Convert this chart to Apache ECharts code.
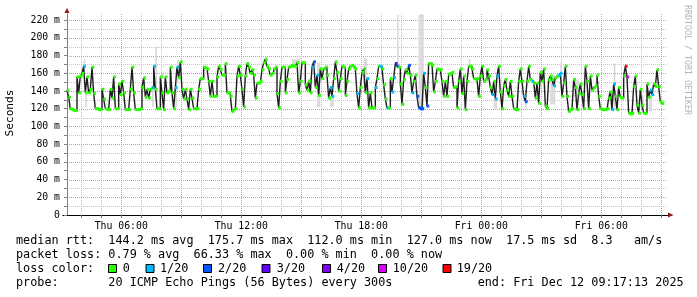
<!DOCTYPE html>
<html><head><meta charset="utf-8">
<script src="https://cdn.jsdelivr.net/npm/echarts@6/dist/echarts.min.js"></script>
<style>html,body{margin:0;padding:0;background:#fff}#c{width:697px;height:297px}</style>
</head><body><div id="c"></div>
<script>
// ---- time axis (hours since Thu 00:00) ----
const T0 = 3 + 17/60 + 13/3600;   // Thu 03:17:13
const T1 = T0 + 30;               // Fri 09:17:13
const stepH = 300/3600;           // 300 s per sample
const YMAX = 227;

const xLabelHours = [6, 12, 18, 24, 30];
const xLabels = ['Thu 06:00', 'Thu 12:00', 'Thu 18:00', 'Fri 00:00', 'Fri 06:00'];
const xTickHours = [4,5,6,7,8,9,10,11,12,13,14,15,16,17,18,19,20,21,22,23,24,25,26,27,28,29,30,31,32,33];
const xMajorHours = [6,9,12,15,18,21,24,27,30,33];
const xMinorHours = [4,5,7,8,10,11,13,14,16,17,19,20,22,23,25,26,28,29,31,32];

const yLabelVals = [0,20,40,60,80,100,120,140,160,180,200,220];
const yLabels = ['0','20 m','40 m','60 m','80 m','100 m','120 m','140 m','160 m','180 m','200 m','220 m'];
const yTickVals = [0,10,20,30,40,50,60,70,80,90,100,110,120,130,140,150,160,170,180,190,200,210,220];
const yMajorVals = [20,40,60,80,100,120,140,160,180,200,220];
const yMinorVals = [10,30,50,70,90,110,130,150,170,190,210];

// ---- median RTT (ms), one per 300 s sample ----
const median = [
141,133,120,119,118,118,156,138,157,160,
168,138,156,138,142,167,137,120,120,119,
119,142,131,120,119,119,142,132,156,120,
120,148,136,151,138,119,119,119,142,167,
138,119,119,119,120,144,155,133,142,132,
142,144,168,142,120,120,156,138,119,156,
138,140,167,138,120,144,167,155,173,142,
131,142,131,119,142,132,120,120,120,142,
154,154,167,166,165,151,134,151,134,134,
156,168,164,158,158,171,138,138,134,117,
119,120,157,168,158,142,122,157,171,167,
160,164,158,132,149,149,151,164,172,176,
168,165,158,160,165,167,137,121,151,167,
167,138,153,167,168,169,168,168,172,138,
151,172,172,147,141,151,138,167,173,144,
158,135,165,154,165,167,158,132,144,134,
154,173,161,140,154,168,167,135,151,165,
168,169,167,165,137,121,144,161,165,138,
154,121,138,121,121,144,154,168,168,165,
147,131,121,121,154,139,155,171,168,167,
148,125,153,164,160,169,158,138,151,158,
134,121,120,120,160,144,123,171,171,169,
139,151,165,164,164,151,134,151,134,159,
160,161,144,145,121,151,165,137,157,119,
151,168,168,165,154,153,154,134,157,168,
151,153,164,157,144,136,151,131,157,168,
139,120,146,153,141,134,151,134,120,119,
119,151,165,151,134,128,151,168,153,151,
149,132,149,126,161,151,165,123,120,153,
157,153,146,155,157,158,160,134,149,168,
134,117,119,120,153,144,119,137,148,136,
120,168,151,120,157,141,144,146,158,134,
120,119,119,119,120,132,139,119,148,134,
119,144,133,132,157,168,156,115,114,115,
145,157,124,115,142,124,115,115,148,133,
141,136,148,145,164,145,128,126
];

// ---- packet loss (x/20) at samples with loss ----
const lossIdx = [10,51,52,65,66,147,148,150,158,159,174,180,185,188,192,195,196,197,198,205,207,210,211,212,213,214,216,255,257,258,274,275,279,292,295,296,327,328,335,336,350,351];
const lossLvl = [1, 1, 1, 1, 1, 1,  2,  1,  1,  1,  1,  1,  1,  1,  1,  1,  1,  3,  2,  2,  1,  2,  2,  2,  2,  1,  2,  1,  1,  1,  1,  2,  1,  1,  1,  1,  1,  1,  19, 10, 1,  1];

// ---- smoke (ping spread) where visible ----
const smokeIdx = [10, 11, 51, 53, 57, 65, 66, 135,136,137,138,139,145,150,151,152,158,159,178,179,198,211,212,213,241,256,257,275,290,291,292,296,300,301,304,305,306,325,326,327,328,344,345,349,350];
const smokeLo  = [168,122,122,131,155,122,150,168,168,168,168,138,147,122,122,150,122,122,138,138,168,118,118,118,168,120,120,120,125,125,125,160,117,117,134,134,134,130,130,130,120,120,120,117,117];
const smokeHi  = [176,140,144,190,161,150,175,176,176,176,176,180,155,172,172,165,135,135,177,177,226,226,226,226,176,131,131,130,158,158,158,172,121,121,153,153,153,139,139,139,171,135,135,139,139];

const lossColors = {0:'#26ff00',1:'#00b8ff',2:'#0059ff',3:'#5e00ff',4:'#7e00ff',10:'#dd00ff',19:'#ff0000'};
const legendLevels = [0,1,2,3,4,10,19];
const legendTexts = ['0','1/20','2/20','3/20','4/20','10/20','19/20'];
const legendBoxX = [108.5,146,203.5,262,322.5,378.5,443];
const legendTextX = [122.7,160,218,276.7,336.7,392.7,456.7];

const lossAt = median.map(() => 0);
lossIdx.forEach((k, j) => { lossAt[k] = lossLvl[j]; });

const MONO = '"DejaVu Sans Mono", monospace';
const MINOR_C = '#c4c4c4';
const MAJOR_C = '#ec8c8c';
const chart = echarts.init(document.getElementById('c'), null, {renderer: 'canvas'});

function vGrid(hours, color) {
  return {
    type: 'custom', xAxisIndex: 0, yAxisIndex: 0, z: 0, silent: true,
    data: hours.map(h => [h, 0]),
    encode: {x: 0, y: 1},
    renderItem: (params, api) => {
      const a = api.coord([api.value(0), 0]);
      const b = api.coord([api.value(0), YMAX]);
      const x = Math.round(a[0]) + 0.5;
      return {type: 'line', shape: {x1: x, y1: a[1], x2: x, y2: b[1]},
        style: {stroke: color, lineWidth: 1, lineDash: [1, 1]}};
    }
  };
}
function hGrid(vals, color) {
  return {
    type: 'custom', xAxisIndex: 0, yAxisIndex: 0, z: 0, silent: true,
    data: vals.map(v => [T0, v]),
    encode: {x: 0, y: 1},
    renderItem: (params, api) => {
      const a = api.coord([T0, api.value(1)]);
      const b = api.coord([T1, api.value(1)]);
      const y = Math.round(a[1]) + 0.5;
      return {type: 'line', shape: {x1: a[0], y1: y, x2: b[0], y2: y},
        style: {stroke: color, lineWidth: 1, lineDash: [1, 1]}};
    }
  };
}

const legendGraphics = [];
legendLevels.forEach((lv, j) => {
  legendGraphics.push({type: 'rect', shape: {x: legendBoxX[j], y: 264.5, width: 8, height: 8},
    style: {fill: lossColors[lv], stroke: '#000', lineWidth: 1}});
  legendGraphics.push({type: 'text', x: legendTextX[j], y: 269,
    style: {text: legendTexts[j], fontSize: 11.8, fontFamily: MONO, fill: '#000', verticalAlign: 'middle'}});
});

const option = {
  animation: false,
  backgroundColor: '#fff',
  grid: {left: 67, right: 30, top: 14, bottom: 82},
  xAxis: {
    type: 'value', min: T0, max: T1,
    axisLine: {show: true, onZero: false, lineStyle: {color: '#000', width: 1}},
    axisTick: {show: true, customValues: xTickHours, length: 3, lineStyle: {color: '#777'}},
    axisLabel: {customValues: xLabelHours, margin: 6, fontSize: 9.8, fontFamily: MONO, color: '#000',
      formatter: v => xLabels[xLabelHours.indexOf(Math.round(v))] || ''},
    splitLine: {show: false}
  },
  yAxis: {
    type: 'value', min: 0, max: YMAX,
    axisLine: {show: true, onZero: false, lineStyle: {color: '#808080', width: 1}},
    axisTick: {show: true, customValues: yTickVals, length: 3, lineStyle: {color: '#808080'}},
    axisLabel: {customValues: yLabelVals, margin: 7, fontSize: 9.8, fontFamily: MONO, color: '#000',
      formatter: v => yLabels[yLabelVals.indexOf(Math.round(v))] || ''},
    splitLine: {show: false}
  },
  series: [
    vGrid(xMinorHours, MINOR_C),
    hGrid(yMinorVals, MINOR_C),
    vGrid(xMajorHours, MAJOR_C),
    hGrid(yMajorVals, MAJOR_C),
    {
      type: 'custom', xAxisIndex: 0, yAxisIndex: 0, z: 1, clip: true,
      data: smokeIdx.map((k, j) => [T0 + k * stepH, smokeLo[j], smokeHi[j]]),
      encode: {x: 0, y: [1, 2]},
      renderItem: (params, api) => {
        const t = api.value(0);
        const a = api.coord([t, api.value(2)]);
        const b = api.coord([t + stepH, api.value(1)]);
        return {type: 'rect', shape: {x: a[0], y: a[1], width: b[0] - a[0], height: b[1] - a[1]},
          style: {fill: '#d9d9d9'}};
      }
    },
    {
      type: 'line', xAxisIndex: 0, yAxisIndex: 0, z: 2, step: 'end',
      symbol: 'none', showSymbol: false,
      lineStyle: {color: '#1e1e1e', width: 1.4},
      data: median.map((v, i) => [T0 + i * stepH, v])
    },
    {
      type: 'custom', xAxisIndex: 0, yAxisIndex: 0, z: 3, clip: true,
      data: median.map((v, i) => [T0 + i * stepH, v, lossAt[i]]),
      encode: {x: 0, y: 1},
      renderItem: (params, api) => {
        const t = api.value(0);
        const a = api.coord([t, api.value(1)]);
        const b = api.coord([t + stepH, api.value(1)]);
        return {type: 'rect', shape: {x: a[0] - 0.4, y: a[1] - 1.5, width: b[0] - a[0] + 1, height: 3},
          style: {fill: lossColors[api.value(2)] || lossColors[0]}};
      }
    }
  ],
  graphic: [
    {type: 'polygon', shape: {points: [[64.5, 13], [69.5, 13], [67, 8]]}, style: {fill: '#8b1a1a'}},
    {type: 'polygon', shape: {points: [[668, 212.5], [668, 217.5], [673.5, 215]]}, style: {fill: '#8b1a1a'}},
    {type: 'line', shape: {x1: 62.5, y1: 215.5, x2: 668, y2: 215.5}, style: {stroke: '#000', lineWidth: 1}},
    {type: 'text', x: 10.5, y: 113, rotation: Math.PI / 2,
      style: {text: 'Seconds', fontSize: 11.2, fontFamily: MONO, fill: '#000', align: 'center', verticalAlign: 'middle'}},
    {type: 'text', x: 687.5, y: 60, rotation: -Math.PI / 2,
      style: {text: 'RRDTOOL / TOBI OETIKER', fontSize: 8.3, fontFamily: MONO, fill: '#b4b4b4', align: 'center', verticalAlign: 'middle'}},
    {type: 'text', x: 16, y: 241,
      style: {text: 'median rtt:  144.2 ms avg  175.7 ms max  112.0 ms min  127.0 ms now  17.5 ms sd  8.3   am/s',
        fontSize: 11.8, fontFamily: MONO, fill: '#000', verticalAlign: 'middle'}},
    {type: 'text', x: 16, y: 255,
      style: {text: 'packet loss: 0.79 % avg  66.33 % max  0.00 % min  0.00 % now',
        fontSize: 11.8, fontFamily: MONO, fill: '#000', verticalAlign: 'middle'}},
    {type: 'text', x: 16, y: 269,
      style: {text: 'loss color:', fontSize: 11.8, fontFamily: MONO, fill: '#000', verticalAlign: 'middle'}},
    {type: 'text', x: 16, y: 283,
      style: {text: 'probe:       20 ICMP Echo Pings (56 Bytes) every 300s            end: Fri Dec 12 09:17:13 2025',
        fontSize: 11.8, fontFamily: MONO, fill: '#000', verticalAlign: 'middle'}}
  ].concat(legendGraphics)
};
chart.setOption(option);
</script></body></html>
